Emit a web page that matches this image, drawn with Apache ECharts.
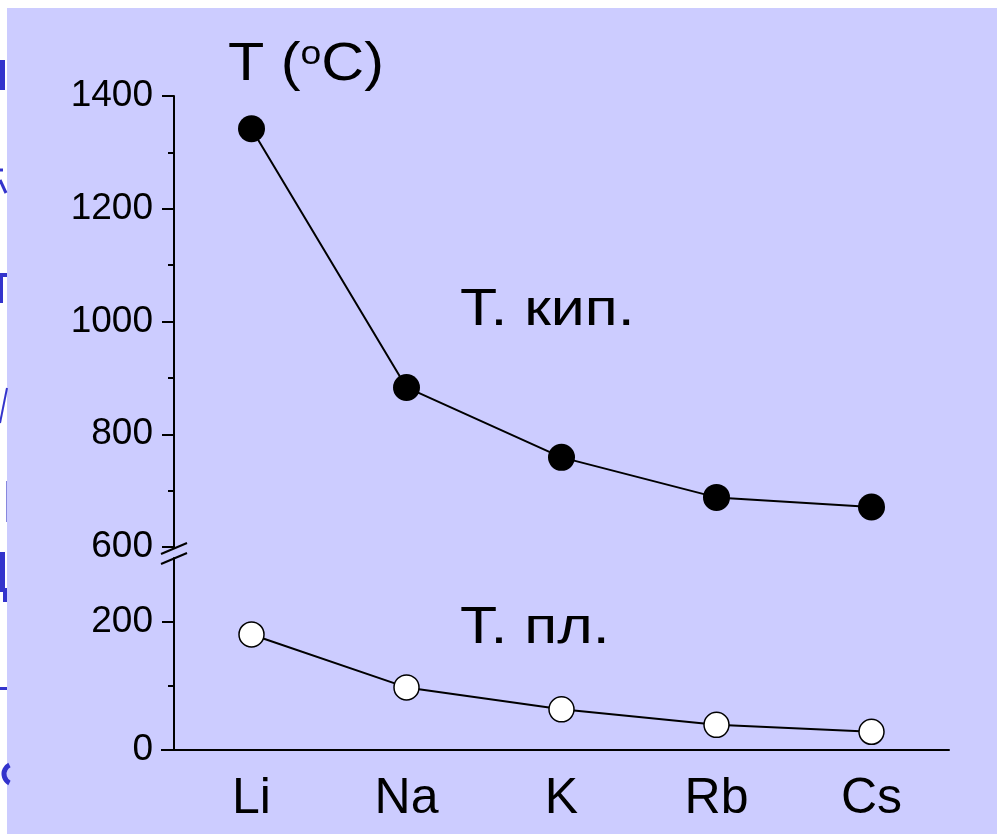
<!DOCTYPE html>
<html><head><meta charset="utf-8">
<script src="https://cdn.jsdelivr.net/npm/echarts@6/dist/echarts.min.js"></script>
<style>html,body{margin:0;padding:0;background:#fff}#c{width:997px;height:834px}</style>
</head><body><div id="c"></div>
<script>
const elements = ['Li', 'Na', 'K', 'Rb', 'Cs'];
const boilingPoints = [1342, 883, 759, 688, 671];
const meltingPoints = [180.5, 97.8, 63.5, 39.3, 28.5];
const lowerMajorTicks = [0, 200];
const lowerMinorTicks = [100];
const boilingLabel = 'Т. кип.';
const meltingLabel = 'Т. пл.';

const FONT = '"Liberation Sans", Arial, sans-serif';
const BLUE = '#3333cc';
const lineSt = { color: '#000', width: 2 };
const plain = v => String(v);
const chart = echarts.init(document.getElementById('c'));

const option = {
  backgroundColor: '#ffffff',
  animation: false,
  grid: [
    { left: 174, top: 96, width: 775, height: 451 },
    { left: 174, top: 558, width: 775, height: 192 }
  ],
  xAxis: [
    { gridIndex: 0, type: 'category', data: elements, show: false },
    { gridIndex: 1, type: 'category', data: elements,
      axisLine: { lineStyle: lineSt },
      axisTick: { alignWithLabel: true, length: 3, lineStyle: lineSt },
      axisLabel: { color: '#000', fontSize: 50, fontFamily: FONT, margin: 24 } }
  ],
  yAxis: [
    { gridIndex: 0, type: 'value', position: 'left', min: 600, max: 1400, interval: 200,
      axisLine: { show: true, lineStyle: lineSt },
      axisTick: { show: true, length: 12, lineStyle: lineSt },
      minorTick: { show: true, splitNumber: 2, length: 6, lineStyle: lineSt },
      axisLabel: { color: '#000', fontSize: 37, fontFamily: FONT, margin: 21, formatter: plain },
      splitLine: { show: false } },
    { gridIndex: 1, type: 'value', position: 'left', min: 0, max: 300,
      axisLine: { show: true, lineStyle: lineSt },
      axisTick: { show: true, length: 12, lineStyle: lineSt, customValues: lowerMajorTicks },
      axisLabel: { color: '#000', fontSize: 37, fontFamily: FONT, margin: 21, customValues: lowerMajorTicks, formatter: plain },
      splitLine: { show: false } },
    { gridIndex: 1, type: 'value', position: 'left', min: 0, max: 300,
      axisLine: { show: false },
      axisTick: { show: true, length: 6, lineStyle: lineSt, customValues: lowerMinorTicks },
      axisLabel: { show: false, customValues: lowerMinorTicks },
      splitLine: { show: false } }
  ],
  series: [
    { type: 'line', xAxisIndex: 0, yAxisIndex: 0, data: boilingPoints,
      symbol: 'circle', symbolSize: 27,
      itemStyle: { color: '#000' }, lineStyle: { color: '#000', width: 2 } },
    { type: 'line', xAxisIndex: 1, yAxisIndex: 1, data: meltingPoints,
      symbol: 'circle', symbolSize: 25,
      itemStyle: { color: '#fff', borderColor: '#000', borderWidth: 1.5 }, lineStyle: { color: '#000', width: 2 } }
  ],
  graphic: [
    { type: 'rect', z: -100, silent: true, shape: { x: 7, y: 8, width: 990, height: 826 }, style: { fill: '#ccccff' } },
    // cut-off slide text fragments at the left edge
    { type: 'rect', shape: { x: 0, y: 60, width: 5, height: 30 }, style: { fill: BLUE } },
    { type: 'polyline', shape: { points: [[0, 170], [3, 170]] }, style: { stroke: BLUE, lineWidth: 3 } },
    { type: 'polyline', shape: { points: [[0, 180], [6, 193]] }, style: { stroke: BLUE, lineWidth: 3 } },
    { type: 'rect', shape: { x: 0, y: 273, width: 7, height: 4 }, style: { fill: BLUE } },
    { type: 'rect', shape: { x: 0, y: 273, width: 3, height: 30 }, style: { fill: BLUE } },
    { type: 'polyline', shape: { points: [[0, 423], [7, 388]] }, style: { stroke: BLUE, lineWidth: 2 } },
    { type: 'rect', shape: { x: 6, y: 481, width: 1, height: 41 }, style: { fill: '#8888dd' } },
    { type: 'rect', shape: { x: 0, y: 552, width: 5, height: 40 }, style: { fill: BLUE } },
    { type: 'rect', shape: { x: 3, y: 588, width: 4, height: 14 }, style: { fill: BLUE } },
    { type: 'rect', shape: { x: 0, y: 687, width: 7, height: 3 }, style: { fill: BLUE } },
    { type: 'arc', shape: { cx: 14, cy: 774, r: 10, startAngle: Math.PI * 0.65, endAngle: Math.PI * 1.35 }, style: { stroke: BLUE, lineWidth: 5, fill: null } },
    // axis break marks
    { type: 'line', shape: { x1: 161, y1: 554, x2: 187, y2: 543 }, style: { stroke: '#000', lineWidth: 2 } },
    { type: 'line', shape: { x1: 161, y1: 564, x2: 187, y2: 553 }, style: { stroke: '#000', lineWidth: 2 } },
    // x axis extension to the left of the y axis
    { type: 'line', shape: { x1: 161, y1: 750, x2: 174, y2: 750 }, style: { stroke: '#000', lineWidth: 2 } },
    // titles
    { type: 'text', x: 228, y: 38, scaleX: 1.1, style: {
        text: '{a|T (}{b|o}{a|C)}', fill: '#000',
        rich: { a: { fontSize: 54, fontFamily: FONT, fill: '#000' }, b: { fontSize: 34, fontFamily: FONT, fill: '#000', verticalAlign: 'top' } } } },
    { type: 'text', x: 460, y: 285, scaleX: 1.17, style: { text: boilingLabel, fontSize: 52, fontFamily: FONT, fill: '#000' } },
    { type: 'text', x: 460, y: 603, scaleX: 1.17, style: { text: meltingLabel, fontSize: 52, fontFamily: FONT, fill: '#000' } }
  ]
};
chart.setOption(option);
</script></body></html>
